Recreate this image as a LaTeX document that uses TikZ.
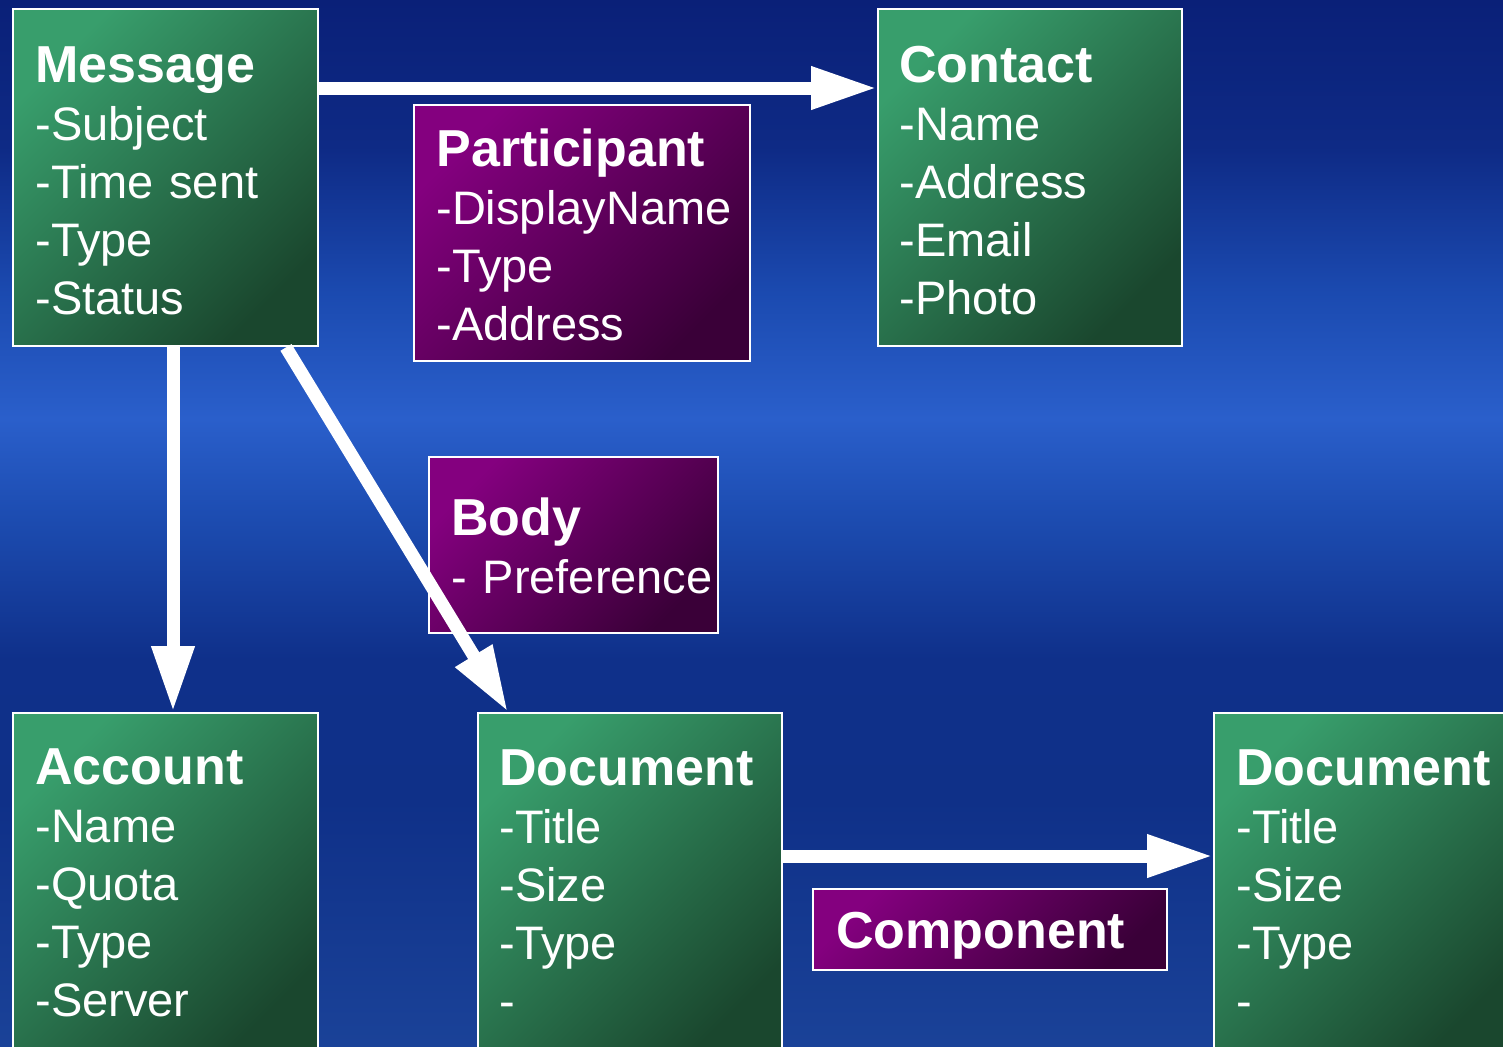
\documentclass[tikz,border=0pt]{standalone}
\usepackage{fontspec}
\setmainfont{Liberation Sans}
\usetikzlibrary{arrows.meta,calc}
\definecolor{bgA}{HTML}{0A2078}
\definecolor{bgB}{HTML}{0E2A85}
\definecolor{bgC}{HTML}{1B4AB0}
\definecolor{bgD}{HTML}{2A5FCB}
\definecolor{bgE}{HTML}{1D4DB2}
\definecolor{bgF}{HTML}{0F308A}
\definecolor{bgG}{HTML}{0F3088}
\definecolor{bgH}{HTML}{1A4298}
\definecolor{gtop}{HTML}{389E6C}
\definecolor{gbot}{HTML}{1A472E}
\definecolor{ptop}{HTML}{84007F}
\definecolor{pbot}{HTML}{3A0038}
\pgfdeclareverticalshading{bgshade}{100bp}{color(0bp)=(bgH); color(25bp)=(bgH); color(36.76bp)=(bgG); color(43.5bp)=(bgF); color(50.5bp)=(bgE); color(55bp)=(bgD); color(61bp)=(bgC); color(68bp)=(bgB); color(75bp)=(bgA); color(100bp)=(bgA)}
\newcommand{\ttlfont}{\fontsize{26pt}{29pt}\selectfont\bfseries}
\newcommand{\atrfont}{\fontsize{23.5pt}{29pt}\selectfont}
\tikzset{
  gbox/.style={draw=white, line width=1.2pt, anchor=north west, inner sep=0pt,
    top color=gtop, bottom color=gbot, shading angle=45},
  pbox/.style={draw=white, line width=1.2pt, anchor=north west, inner sep=0pt,
    top color=ptop, bottom color=pbot, shading angle=45},
  txt/.style={anchor=base west, inner sep=0pt, text=white, text width=180pt,
    align=left, font=\atrfont},
  arr/.style={draw=white, line width=6.5pt, -{Triangle[length=33pt,width=20pt]}},
}
\begin{document}
\begin{tikzpicture}[x=0.5pt, y=-0.5pt]
\useasboundingbox (0,0) rectangle (1503,1046);
\shade[shading=bgshade] (0,0) rectangle (1503,1046);

% boxes
\node[gbox, minimum width=152.5pt, minimum height=168.5pt] (msg) at (12,8) {};
\node[gbox, minimum width=152pt, minimum height=168.5pt] (contact) at (877,8) {};
\node[pbox, minimum width=168pt, minimum height=128pt] (part) at (413,104) {};
\node[pbox, minimum width=144.5pt, minimum height=88pt] (body) at (428,456) {};
\node[gbox, minimum width=152.5pt, minimum height=172.5pt] (acct) at (12,712) {};
\node[gbox, minimum width=152pt, minimum height=172.5pt] (doca) at (477,712) {};
\node[gbox, minimum width=152.5pt, minimum height=172.5pt] (docb) at (1213,712) {};
\node[pbox, minimum width=177pt, minimum height=40.5pt] (comp) at (812,888) {};

% texts
\node[txt] (msgT) at ($(msg.north west)+(23,74)$)
  {{\ttlfont Message}\\-Subject\\-Time sent\\-Type\\-Status};
\node[txt] (contactT) at ($(contact.north west)+(22,74)$)
  {{\ttlfont Contact}\\-Name\\-Address\\-Email\\-Photo};
\node[txt] (partT) at ($(part.north west)+(23,62)$)
  {{\ttlfont Participant}\\-DisplayName\\-Type\\-Address};
\node[txt] (bodyT) at ($(body.north west)+(23,79)$)
  {{\ttlfont Body}\\- Preference};
\node[txt] (acctT) at ($(acct.north west)+(23,72)$)
  {{\ttlfont Account}\\-Name\\-Quota\\-Type\\-Server};
\node[txt] (docaT) at ($(doca.north west)+(22,73)$)
  {{\ttlfont Document}\\-Title\\-Size\\-Type\\-};
\node[txt] (docbT) at ($(docb.north west)+(23,73)$)
  {{\ttlfont Document}\\-Title\\-Size\\-Type\\-};
\node[txt] (compT) at ($(comp.north west)+(24,60)$)
  {{\ttlfont Component}};

% connectors
\draw[arr] ($(msg.north east)+(0,80)$) -- ($(contact.north west)+(0,80)$);
\draw[arr] ($(msg.south west)+(161,0)$) -- ($(acct.north west)+(161,0)$);
\draw[arr] ($(msg.south west)+(274,0)$) -- ($(doca.north west)+(31,0)$);
\draw[arr] ($(doca.north east)+(0,144)$) -- ($(docb.north west)+(0,144)$);
\end{tikzpicture}
\end{document}
